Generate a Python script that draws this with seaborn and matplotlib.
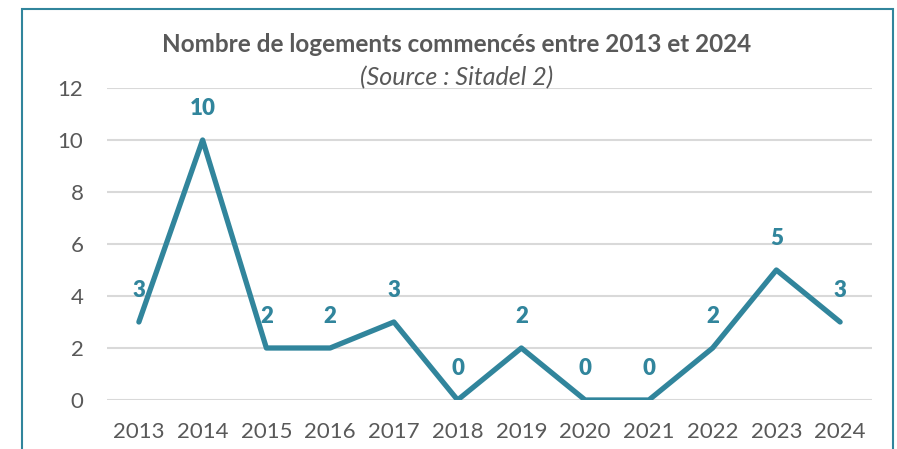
import matplotlib
matplotlib.use("Agg")
import matplotlib.pyplot as plt
import seaborn as sns
import pandas as pd
from matplotlib.patches import Rectangle

years = ["2013", "2014", "2015", "2016", "2017", "2018", "2019", "2020", "2021", "2022", "2023", "2024"]
values = [3, 10, 2, 2, 3, 0, 2, 0, 0, 2, 5, 3]
yticks = [0, 2, 4, 6, 8, 10, 12]
title = "Nombre de logements commencés entre 2013 et 2024"
subtitle = "(Source : Sitadel 2)"

sns.set_theme(style="white")
plt.rcParams['font.family'] = ['Lato', 'DejaVu Sans']

teal = "#31859C"
gray = "#595959"

df = pd.DataFrame({"year": years, "value": values})

fig = plt.figure(figsize=(8.97, 4.49), dpi=100)
ax = fig.add_axes([107/897, 1 - 400/449, (872-107)/897, (400-88)/449])

sns.lineplot(data=df, x="year", y="value", ax=ax, color=teal, linewidth=3.8, sort=False)
ax.set_xlim(-0.5, len(years) - 0.5)
ax.set_ylim(0, 12)
ax.set_yticks(yticks)
ax.set_yticklabels([str(t) for t in yticks])
ax.set_xlabel("")
ax.set_ylabel("")
ax.grid(axis="y", color="#d9d9d9", linewidth=1.5)
ax.set_axisbelow(True)
for s in ax.spines.values():
    s.set_visible(False)
ax.tick_params(axis="both", length=0, labelsize=16, colors=gray)
ax.tick_params(axis="y", pad=17)
ax.tick_params(axis="x", pad=16)

for i, v in enumerate(values):
    ax.annotate(str(v), (i, v), xytext=(0, 23), textcoords="offset points",
                ha="center", va="center", fontsize=16, fontweight="heavy", color=teal)

fig.text(457/897, 1 - 45/449, title, ha="center", va="center", fontsize=17.5,
         fontweight="bold", color=gray)
fig.text(457/897, 1 - 78/449, subtitle, ha="center", va="center", fontsize=18,
         fontstyle="italic", color=gray)

fig.patches.append(Rectangle((22/897, -0.05), (893-22)/897, 1 - 9/449 + 0.05,
                             transform=fig.transFigure, fill=False,
                             edgecolor=teal, linewidth=1.5))

fig.savefig("out.png", dpi=100)
